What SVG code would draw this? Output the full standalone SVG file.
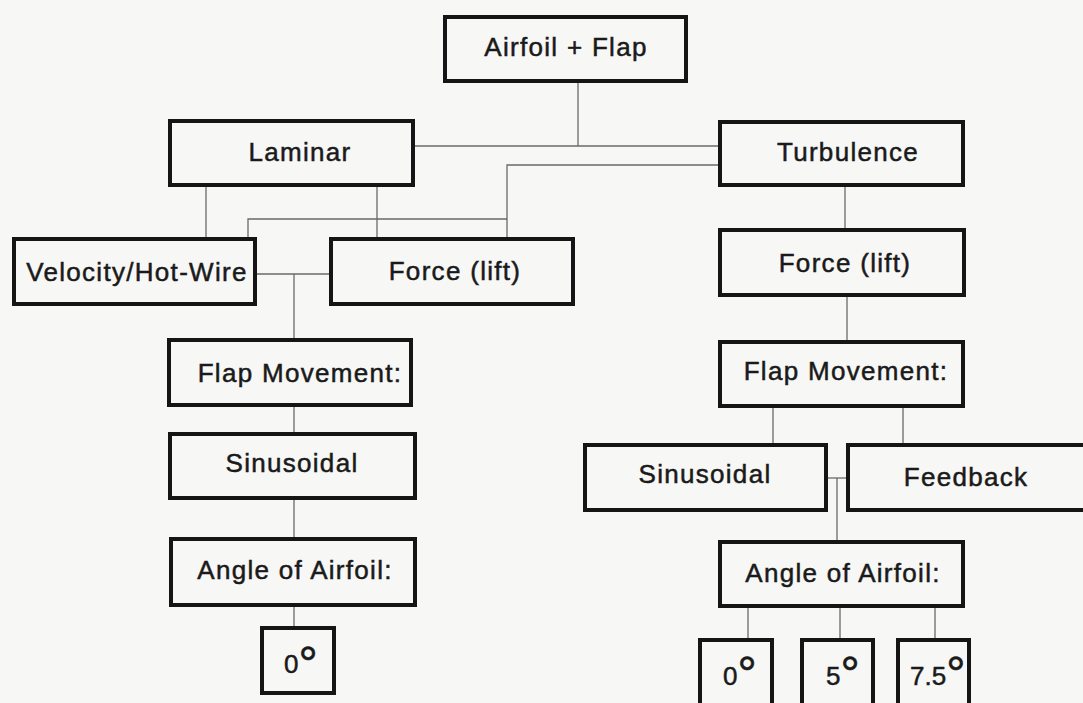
<svg xmlns="http://www.w3.org/2000/svg" width="1083" height="703" viewBox="0 0 1083 703">
<style>
.box{fill:none;stroke:#151515;stroke-width:4}
.lbl{font-family:"Liberation Sans",Arial,sans-serif;font-size:26px;letter-spacing:1.3px;fill:#1a1a1a;stroke:#1a1a1a;stroke-width:0.5;text-anchor:middle}
.deg{font-family:"Liberation Sans",Arial,sans-serif;font-size:26px;fill:#1a1a1a;stroke:#1a1a1a;stroke-width:0.5}
.sup{font-size:48px;stroke-width:0.6}
#connectors path{fill:none;stroke:#6a6a6a;stroke-width:1.3}
</style>
<rect x="0" y="0" width="1083" height="703" fill="#f7f7f6"/>
<g id="connectors">
<path d="M578,83V146"/>
<path d="M415,146H718"/>
<path d="M718,165H507V237"/>
<path d="M507,219H248V237"/>
<path d="M206,187V237"/>
<path d="M377,187V237"/>
<path d="M845,187V228"/>
<path d="M847,297V340"/>
<path d="M257,274H329"/>
<path d="M294,274V338"/>
<path d="M294,407V432"/>
<path d="M294,500V537"/>
<path d="M294,607V626"/>
<path d="M773,408V443"/>
<path d="M903,408V443"/>
<path d="M828,478H846"/>
<path d="M837,478V540"/>
<path d="M748,608V638"/>
<path d="M840,608V638"/>
<path d="M935,608V638"/>
</g>
<g id="airfoil-flap"><rect class="box" x="445" y="17" width="241" height="64"/><text class="lbl" x="566" y="56">Airfoil + Flap</text></g>
<g id="laminar"><rect class="box" x="170" y="121" width="243" height="64"/><text class="lbl" x="300" y="161">Laminar</text></g>
<g id="turbulence"><rect class="box" x="720" y="122" width="243" height="63"/><text class="lbl" x="848" y="161">Turbulence</text></g>
<g id="velocity-hotwire"><rect class="box" x="14" y="239" width="241" height="65"/><text class="lbl" x="137" y="281">Velocity/Hot-Wire</text></g>
<g id="force-left"><rect class="box" x="331" y="239" width="242" height="65"/><text class="lbl" x="455" y="280">Force (lift)</text></g>
<g id="force-right"><rect class="box" x="720" y="230" width="244" height="65"/><text class="lbl" x="845" y="272">Force (lift)</text></g>
<g id="flap-movement-left"><rect class="box" x="169" y="340" width="242" height="65"/><text class="lbl" x="300" y="382">Flap Movement:</text></g>
<g id="flap-movement-right"><rect class="box" x="720" y="342" width="243" height="64"/><text class="lbl" x="846" y="380">Flap Movement:</text></g>
<g id="sinusoidal-left"><rect class="box" x="170" y="434" width="245" height="64"/><text class="lbl" x="292" y="472">Sinusoidal</text></g>
<g id="sinusoidal-right"><rect class="box" x="585" y="445" width="241" height="65"/><text class="lbl" x="705" y="483">Sinusoidal</text></g>
<g id="feedback"><rect class="box" x="848" y="445" width="245" height="65"/><text class="lbl" x="966" y="486">Feedback</text></g>
<g id="angle-left"><rect class="box" x="171" y="539" width="244" height="66"/><text class="lbl" x="295" y="579">Angle of Airfoil:</text></g>
<g id="angle-right"><rect class="box" x="720" y="542" width="243" height="64"/><text class="lbl" x="843" y="582">Angle of Airfoil:</text></g>
<g id="deg0-left"><rect class="box" x="262" y="628" width="72" height="65"/><text class="deg" x="284" y="673">0<tspan class="sup" dy="7">°</tspan></text></g>
<g id="deg0-right"><rect class="box" x="700" y="640" width="72" height="70"/><text class="deg" x="723" y="685">0<tspan class="sup" dy="5">°</tspan></text></g>
<g id="deg5-right"><rect class="box" x="802" y="640" width="71" height="70"/><text class="deg" x="826" y="685">5<tspan class="sup" dy="5">°</tspan></text></g>
<g id="deg75-right"><rect class="box" x="898" y="640" width="71" height="70"/><text class="deg" x="910" y="685">7.5<tspan class="sup" dy="5">°</tspan></text></g>
</svg>
